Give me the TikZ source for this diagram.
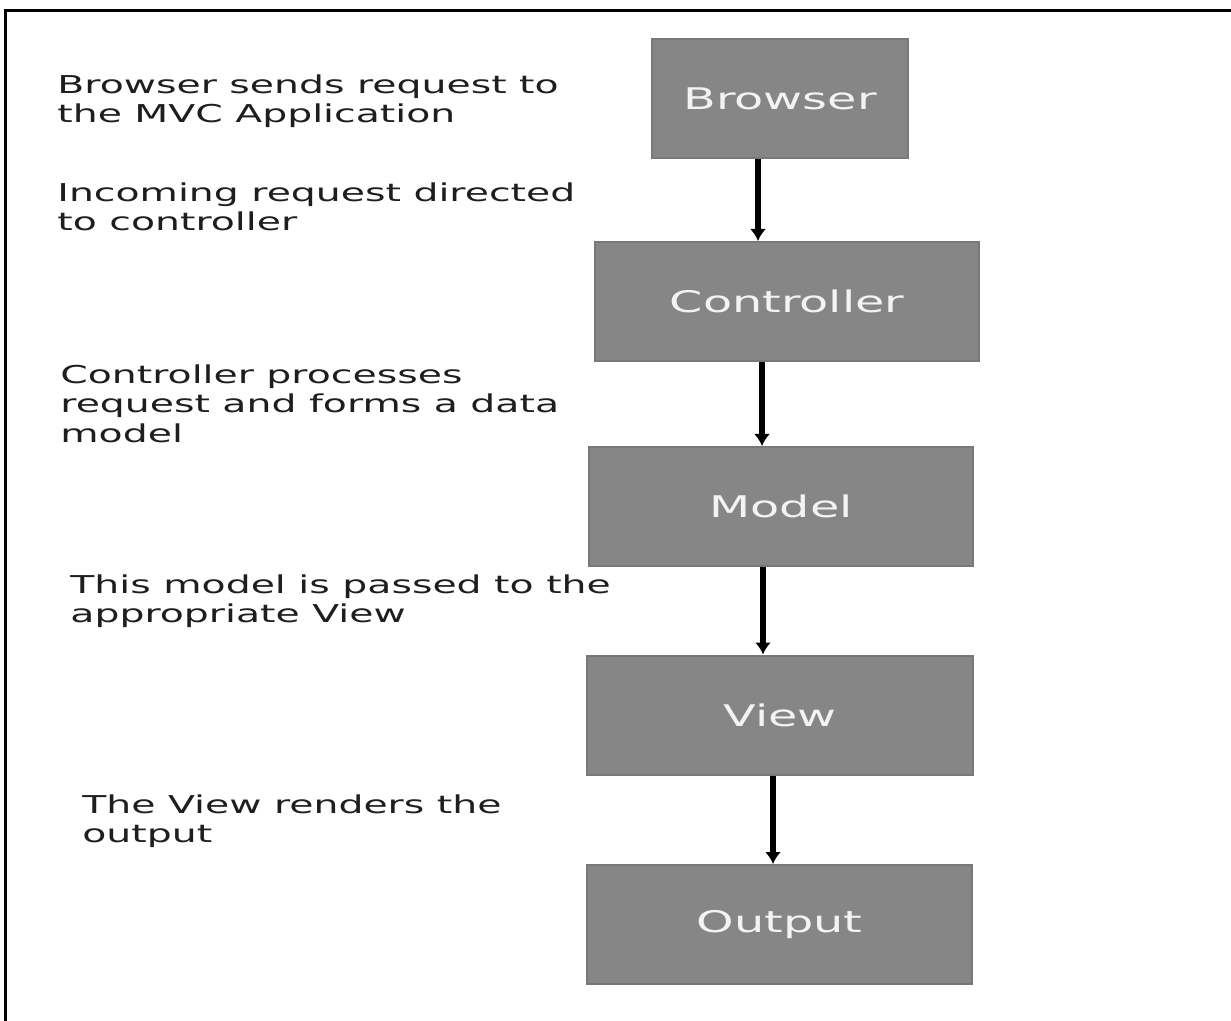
\documentclass[tikz,border=0pt]{standalone}
\usepackage{fontspec}
\usepackage{tikz}
\usetikzlibrary{
  arrows.meta,%
  positioning,%
  calc
}
\newfontfamily\diagfont[FakeStretch=1.6]{DejaVu Sans}
\definecolor{boxgray}{RGB}{134,134,134}
\definecolor{boxedge}{RGB}{120,120,120}
\definecolor{notetext}{RGB}{30,30,30}
\definecolor{boxtext}{RGB}{243,243,243}
\tikzset{>={Latex[length=6pt,width=8pt]}}
\tikzset{font=\diagfont}
\tikzset{stage/.style={draw=boxedge, fill=boxgray, line width=1pt,
    text=boxtext, font=\diagfont\fontsize{14.9}{17}\selectfont,
    minimum height=59.5pt, inner sep=0pt},
  note/.style={anchor=north west, align=left, inner sep=0pt,
    text=notetext, font=\diagfont\fontsize{12.3}{14.75}\selectfont},
  flow/.style={->, line width=2.6pt, black}}

\begin{document}
\begin{tikzpicture}[x=0.5pt, y=-0.5pt]
  \useasboundingbox (0,0) rectangle (1231,1021); %
  % frame, only top and left edges show
  \coordinate (frameBL) at (5.5,1021); %
  \coordinate (frameTL) at (5.5,10.5); %
  \coordinate (frameTR) at (1231,10.5); %
  \draw[line width=1.6pt] (frameBL) -- (frameTL) -- (frameTR); %
  % the stages
  \node[stage, minimum width=128pt] (browser) at (780,99) {Browser}; %
  \node[stage, minimum width=192pt] (controller) at (787,301.5) {Controller}; %
  \node[stage, minimum width=192pt] (model) at (781,506.5) {Model}; %
  \node[stage, minimum width=193pt] (view) at (780,715) {View}; %
  \node[stage, minimum width=192.5pt] (output) at (779.5,924.5) {Output}; %
  % the notes
  \node[note] (sendNote) at (57,74) {Browser sends request to\\the MVC Application}; %
  \node[note] (routeNote) at (57,182) {Incoming request directed\\to controller}; %
  \node[note] (processNote) at (60,364) {Controller processes\\request and forms a data\\model}; %
  \node[note] (passNote) at (70,574) {This model is passed to the\\appropriate View}; %
  \node[note] (renderNote) at (82,794) {The View renders the\\output}; %
  % the flow
  \draw[flow] ([xshift=-11pt]browser.south) -- ([xshift=-11pt]browser.south |- controller.north); %
  \draw[flow] ([xshift=-12.5pt]controller.south) -- ([xshift=-12.5pt]controller.south |- model.north); %
  \draw[flow] ([xshift=-9pt]model.south) -- ([xshift=-9pt]model.south |- view.north); %
  \draw[flow] ([xshift=-3.5pt]view.south) -- ([xshift=-3.5pt]view.south |- output.north); %
\end{tikzpicture}
\end{document}
